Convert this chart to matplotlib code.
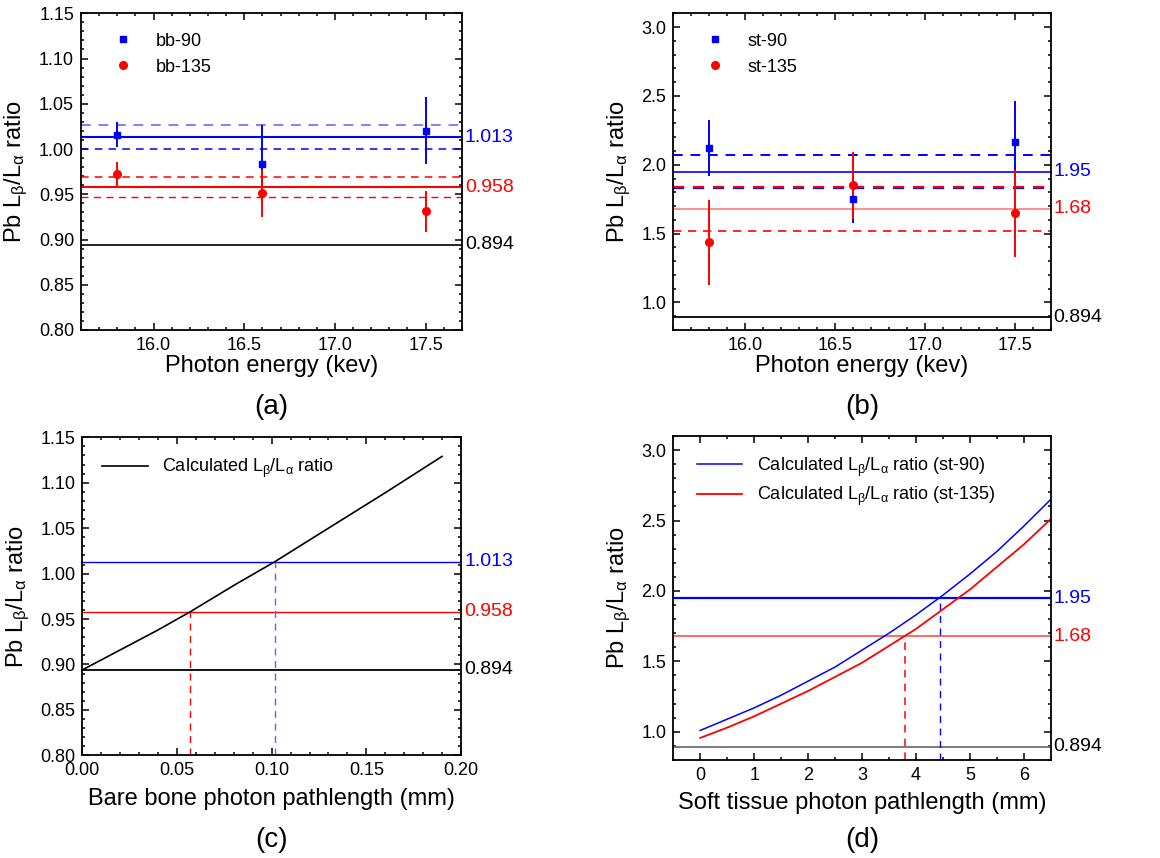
"""Pb L-beta / L-alpha ratio panels: measured (a, b) and calculated vs pathlength (c, d)."""

import matplotlib

matplotlib.use("Agg")
import matplotlib.pyplot as plt
from matplotlib.lines import Line2D
from matplotlib.ticker import MultipleLocator, FormatStrFormatter
import matplotlib.transforms as mtransforms

plt.rcParams["font.family"] = ["Liberation Sans", "DejaVu Sans"]
plt.rcParams["mathtext.fontset"] = "custom"
plt.rcParams["mathtext.rm"] = "Liberation Sans"

BLUE = "#0000ff"
RED = "#ff0000"

# measured points, panel (a) bare bone
energy = [15.8, 16.6, 17.5]
bb90 = [1.016, 0.983, 1.020]
bb90_err = [0.014, 0.043, 0.037]
bb135 = [0.972, 0.951, 0.931]
bb135_err = [0.014, 0.026, 0.023]

# panel (b) soft tissue
st90 = [2.123, 1.749, 2.164]
st90_err = [0.205, 0.175, 0.300]
st135 = [1.437, 1.851, 1.648]
st135_err = [0.310, 0.245, 0.315]

# reference levels
ref_free = 0.894
bb90_mean, bb90_band = 1.013, (1.000, 1.026)
bb135_mean, bb135_band = 0.958, (0.947, 0.969)
st90_mean, st90_band = 1.95, (1.83, 2.07)
st135_mean, st135_band = 1.68, (1.52, 1.84)

# panel (c) calculated ratio vs bare bone pathlength
bone_path = [0.0, 0.02, 0.04, 0.057, 0.08, 0.1016, 0.12, 0.14, 0.16, 0.19]
bone_ratio = [0.894, 0.916, 0.938, 0.958, 0.987, 1.013, 1.037, 1.063, 1.089, 1.129]
bone_cross = {"bb-135": 0.057, "bb-90": 0.1016}

# panel (d) calculated ratio vs soft tissue pathlength
tissue_path = [0.0, 0.5, 1.0, 1.5, 2.0, 2.5, 3.0, 3.5, 4.0, 4.5, 5.0, 5.5, 6.0, 6.5]
tissue_ratio90 = [1.01, 1.09, 1.17, 1.26, 1.36, 1.46, 1.58, 1.70, 1.83, 1.97, 2.12, 2.28, 2.46, 2.65]
tissue_ratio135 = [0.957, 1.03, 1.11, 1.20, 1.29, 1.39, 1.49, 1.61, 1.73, 1.87, 2.01, 2.17, 2.33, 2.51]
tissue_cross = {"st-135": 3.79, "st-90": 4.45}

LAB = "Pb L$\\mathregular{_β}$/L$\\mathregular{_α}$ ratio"
TICK = 13
LABEL = 17
DASH = (0, (5, 4))


def style(ax, xmaj, xmin, ymaj, ymin, xfmt, yfmt):
    ax.xaxis.set_major_locator(MultipleLocator(xmaj))
    ax.xaxis.set_minor_locator(MultipleLocator(xmin))
    ax.yaxis.set_major_locator(MultipleLocator(ymaj))
    ax.yaxis.set_minor_locator(MultipleLocator(ymin))
    ax.xaxis.set_major_formatter(FormatStrFormatter(xfmt))
    ax.yaxis.set_major_formatter(FormatStrFormatter(yfmt))
    ax.tick_params(which="both", direction="in", top=True, right=True, width=1.1, labelsize=TICK)
    ax.tick_params(which="major", length=5, pad=5)
    ax.tick_params(which="minor", length=2.5)
    for sp in ax.spines.values():
        sp.set_linewidth(1.3)
    ax.set_ylabel(LAB, fontsize=LABEL, labelpad=6)


def right_label(ax, y, text, color):
    tr = mtransforms.blended_transform_factory(ax.transAxes, ax.transData)
    ax.text(1.008, y, text, transform=tr, ha="left", va="center", fontsize=14, color=color)


def marker_legend(ax, labels):
    handles = [Line2D([], [], ls="none", marker="s", color=BLUE, ms=5),
               Line2D([], [], ls="none", marker="o", color=RED, ms=5.5)]
    ax.legend(handles, labels, loc="upper left", bbox_to_anchor=(0.04, 0.99), frameon=False,
              fontsize=TICK, handletextpad=1.2, labelspacing=0.5, handlelength=1.2)


fig = plt.figure(figsize=(11.6, 8.58), dpi=100)
ax_a = fig.add_axes([0.0698, 0.6154, 0.3284, 0.3691])
ax_b = fig.add_axes([0.5804, 0.6154, 0.3254, 0.3691])
ax_c = fig.add_axes([0.0710, 0.1197, 0.3264, 0.3706])
ax_d = fig.add_axes([0.5804, 0.1142, 0.3254, 0.3776])

# (a)
ax = ax_a
ax.axhline(bb90_band[1], color="#8080ff", lw=1.4, ls=DASH)
ax.axhline(bb90_band[0], color=BLUE, lw=1.1, ls=DASH)
ax.axhline(bb90_mean, color=BLUE, lw=1.5)
ax.axhline(bb135_band[1], color=RED, lw=1.1, ls=DASH)
ax.axhline(bb135_band[0], color=RED, lw=1.0, ls=DASH)
ax.axhline(bb135_mean, color=RED, lw=1.5)
ax.axhline(ref_free, color="black", lw=1.2)
ax.errorbar(energy, bb90, yerr=bb90_err, fmt="s", color=BLUE, ms=5, elinewidth=1.4, capsize=0)
ax.errorbar(energy, bb135, yerr=bb135_err, fmt="o", color=RED, ms=5.5, elinewidth=1.4, capsize=0)
ax.set_xlim(15.6, 17.7)
ax.set_ylim(0.80, 1.15)
style(ax, 0.5, 0.1, 0.05, 0.01, "%.1f", "%.2f")
ax.set_xlabel("Photon energy (kev)", fontsize=LABEL, labelpad=1)
marker_legend(ax, ["bb-90", "bb-135"])
right_label(ax, bb90_mean, "1.013", BLUE)
right_label(ax, bb135_mean, "0.958", RED)
right_label(ax, ref_free, "0.894", "black")

# (b)
ax = ax_b
ax.axhline(st90_band[1], color=BLUE, lw=1.4, ls=DASH)
ax.axhline(st90_band[0], color=BLUE, lw=1.6, ls=DASH)
ax.axhline(st135_band[1], color=RED, lw=1.6, ls=DASH)
ax.axhline(st135_band[0], color=RED, lw=1.2, ls=DASH)
ax.axhline(st90_mean, color=BLUE, lw=1.2)
ax.axhline(st135_mean, color="#ff7070", lw=1.1)
ax.axhline(ref_free, color="black", lw=1.3)
ax.errorbar(energy, st90, yerr=st90_err, fmt="s", color=BLUE, ms=5, elinewidth=1.4, capsize=0)
ax.errorbar(energy, st135, yerr=st135_err, fmt="o", color=RED, ms=5.5, elinewidth=1.4, capsize=0)
ax.set_xlim(15.6, 17.7)
ax.set_ylim(0.8, 3.1)
style(ax, 0.5, 0.1, 0.5, 0.1, "%.1f", "%.1f")
ax.set_xlabel("Photon energy (kev)", fontsize=LABEL, labelpad=1)
marker_legend(ax, ["st-90", "st-135"])
right_label(ax, st90_mean, "1.95", BLUE)
right_label(ax, st135_mean, "1.68", RED)
right_label(ax, ref_free, "0.894", "black")

# (c)
ax = ax_c
ax.axhline(bb90_mean, color=BLUE, lw=1.0)
ax.axhline(bb135_mean, color=RED, lw=1.0)
ax.axhline(ref_free, color="black", lw=1.3)
ax.plot([bone_cross["bb-135"]] * 2, [0.80, bb135_mean], color=RED, lw=1.0, ls=DASH)
ax.plot([bone_cross["bb-90"]] * 2, [0.80, bb90_mean], color="#6060ff", lw=1.0, ls=DASH)
ax.plot(bone_path, bone_ratio, color="black", lw=1.2, label="Calculated L$\\mathregular{_β}$/L$\\mathregular{_α}$ ratio")
ax.set_xlim(0.0, 0.20)
ax.set_ylim(0.80, 1.15)
style(ax, 0.05, 0.01, 0.05, 0.01, "%.2f", "%.2f")
ax.set_xlabel("Bare bone photon pathlength (mm)", fontsize=LABEL, labelpad=6)
ax.legend(loc="upper left", bbox_to_anchor=(0.01, 0.99), frameon=False, fontsize=TICK,
          handletextpad=0.8, handlelength=2.5)
right_label(ax, bb90_mean, "1.013", BLUE)
right_label(ax, bb135_mean, "0.958", RED)
right_label(ax, ref_free, "0.894", "black")

# (d)
ax = ax_d
ax.axhline(st90_mean, color=BLUE, lw=1.6)
ax.axhline(st135_mean, color="#ff4040", lw=1.1)
ax.axhline(ref_free, color="#707070", lw=1.3)
ax.plot([tissue_cross["st-135"]] * 2, [0.8, st135_mean], color=RED, lw=1.1, ls=DASH)
ax.plot([tissue_cross["st-90"]] * 2, [0.8, st90_mean], color=BLUE, lw=1.0, ls=DASH)
ax.plot(tissue_path, tissue_ratio90, color=BLUE, lw=1.1, label="Calculated L$\\mathregular{_β}$/L$\\mathregular{_α}$ ratio (st-90)")
ax.plot(tissue_path, tissue_ratio135, color=RED, lw=1.3, label="Calculated L$\\mathregular{_β}$/L$\\mathregular{_α}$ ratio (st-135)")
ax.set_xlim(-0.5, 6.5)
ax.set_ylim(0.8, 3.1)
style(ax, 1, 0.5, 0.5, 0.1, "%d", "%.1f")
ax.set_xlabel("Soft tissue photon pathlength (mm)", fontsize=LABEL, labelpad=6)
ax.legend(loc="upper left", bbox_to_anchor=(0.02, 0.99), frameon=False, fontsize=TICK,
          handletextpad=0.8, handlelength=2.5, labelspacing=0.35)
right_label(ax, st90_mean, "1.95", BLUE)
right_label(ax, st135_mean, "1.68", RED)
right_label(ax, ref_free, "0.894", "black")

# panel letters
for ax, letter, y in [(ax_a, "(a)", 0.5256), (ax_b, "(b)", 0.5256), (ax_c, "(c)", 0.021), (ax_d, "(d)", 0.021)]:
    box = ax.get_position()
    fig.text((box.x0 + box.x1) / 2, y, letter, ha="center", va="center", fontsize=20)

fig.savefig("out.png", dpi=100)
